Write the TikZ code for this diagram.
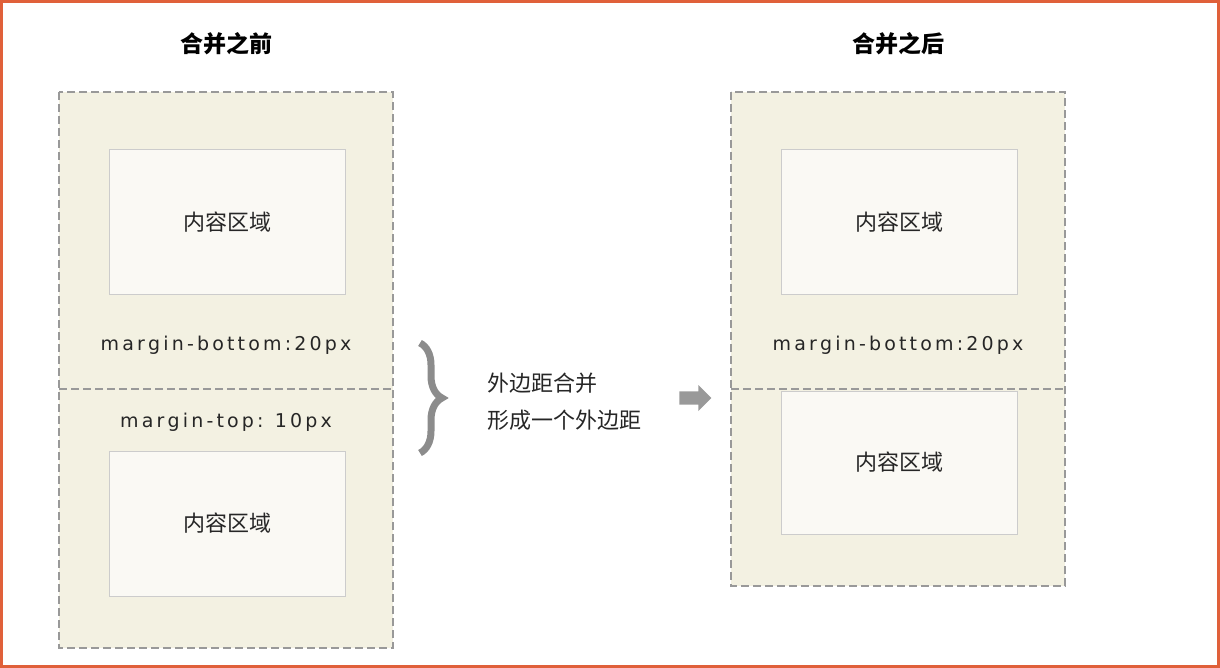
\documentclass[tikz,border=0pt]{standalone}
\usepackage{fontspec}
\setmainfont{DejaVu Sans}
\newfontfamily\cjk{Noto Sans CJK SC}
\usetikzlibrary{decorations.pathreplacing,shapes.arrows}
\definecolor{frame}{HTML}{E0603A}
\definecolor{beige}{HTML}{F3F1E2}
\definecolor{inner}{HTML}{FAF9F4}
\definecolor{dash}{HTML}{999999}
\tikzset{
 outerbox/.style={fill=beige,draw=dash,dashed,dash pattern=on 8pt off 4pt,line width=1.5pt},
 innerbox/.style={fill=inner,draw=black!20,line width=1pt},
 cj/.style={font=\cjk\fontsize{22}{26}\selectfont,text=black!85},
 ttl/.style={font=\cjk\bfseries\fontsize{23}{26}\selectfont},
 mg/.style={font=\fontsize{19}{22}\selectfont,text=black!85},
 sep/.style={draw=dash,dash pattern=on 8pt off 4pt,line width=1.5pt}
}
\begin{document}
\begin{tikzpicture}[x=1pt,y=-1pt]
\useasboundingbox (0,0) rectangle (1220,668);
\draw[frame,line width=3pt] (1.5,1.5) rectangle (1218.5,666.5);
% left
\node[ttl] (t1) at (226,44) {合并之前};
\path[outerbox] (59,92) rectangle (393,648);
\coordinate (l1) at (59,389); \coordinate (l2) at (393,389);
\draw[sep] (l1) -- (l2);
\node[innerbox,minimum width=236pt,minimum height=144pt] (a1) at (227,222) {};
\node[cj] at (a1) {内容区域};
\node[innerbox,minimum width=236pt,minimum height=145pt] (a2) at (227,523.5) {};
\node[cj] at (a2) {内容区域};
\node[mg] (m1) at (226,345) {m\,a\,r\,g\,i\,n\,-\,b\,o\,t\,t\,o\,m\,:\,2\,0\,p\,x};
\node[mg] (m2) at (226,422) {m\,a\,r\,g\,i\,n\,-\,t\,o\,p\,:\, 1\,0\,p\,x};
% middle
\coordinate (b1) at (420,343); \coordinate (b2) at (420,453);
\draw[black!45,line width=7pt,decorate,decoration={brace,amplitude=22pt}] (b1) -- (b2);
\node[cj,anchor=west] (x1) at (484,383) {外边距合并};
\node[cj,anchor=west] (x2) at (484,420) {形成一个外边距};
\node[single arrow,fill=black!40,minimum height=32pt,minimum width=26pt,single arrow head extend=3pt,inner sep=3pt] (ar) at (692,398) {};
% right
\node[ttl] (t2) at (898,44) {合并之后};
\path[outerbox] (731,92) rectangle (1065,586);
\coordinate (r1) at (731,389); \coordinate (r2) at (1065,389);
\draw[sep] (r1) -- (r2);
\node[innerbox,minimum width=236pt,minimum height=144pt] (c1) at (899,222) {};
\node[cj] at (c1) {内容区域};
\node[innerbox,minimum width=236pt,minimum height=143pt] (c2) at (899,462.5) {};
\node[cj] at (c2) {内容区域};
\node[mg] (m3) at (898,345) {m\,a\,r\,g\,i\,n\,-\,b\,o\,t\,t\,o\,m\,:\,2\,0\,p\,x};
\end{tikzpicture}
\end{document}
